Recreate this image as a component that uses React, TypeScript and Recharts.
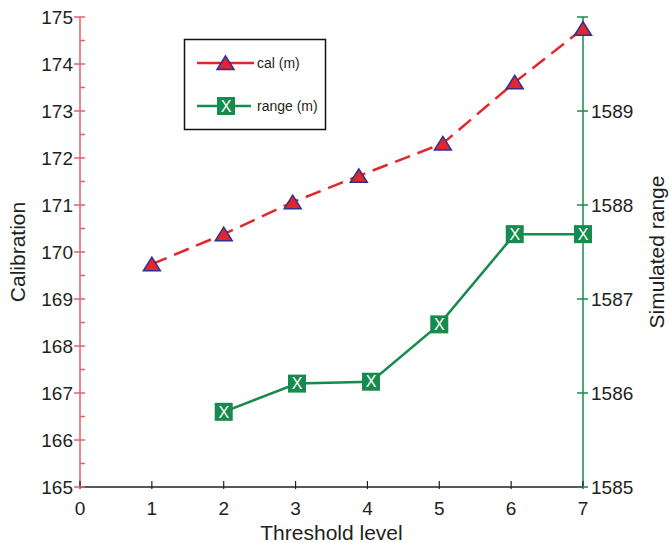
import React from 'react';
import { LineChart, Line, XAxis, YAxis } from 'recharts';

// Threshold level vs calibration / simulated range
const calLevels = [1, 2, 2.96, 3.88, 5.05, 6.05, 7];
const calValues = [169.74, 170.38, 171.06, 171.62, 172.31, 173.61, 174.75];
const rangeLevels = [2, 3.02, 4.05, 5, 6.05, 7];
const rangeValues = [1585.8, 1586.1, 1586.12, 1586.73, 1587.69, 1587.69];

const xTicks = [0, 1, 2, 3, 4, 5, 6, 7];
const leftTicks = [165, 165.5, 166, 166.5, 167, 167.5, 168, 168.5, 169, 169.5, 170, 170.5, 171, 171.5, 172, 172.5, 173, 173.5, 174, 174.5, 175];
const rightTicks = [1585, 1586, 1587, 1588, 1589, 1590];

const calData = calLevels.map((x, i) => ({ x, cal: calValues[i] }));
const rangeData = rangeLevels.map((x, i) => ({ x, range: rangeValues[i] }));

const FONT = '"Liberation Sans", Arial, sans-serif';
const TEXT = '#231f20';
const RED = '#e2262b';
const RED_AXIS = '#e2606a';
const GREEN = '#178a4e';
const NAVY = '#2e3192';

const Triangle = ({ cx, cy }: { cx: number; cy: number }) => (
  <polygon
    points={`${cx - 8.5},${cy + 6.5} ${cx + 8.5},${cy + 6.5} ${cx},${cy - 7}`}
    fill={RED}
    stroke={NAVY}
    strokeWidth={1.5}
    strokeLinejoin="miter"
  />
);

const XBox = ({ cx, cy }: { cx: number; cy: number }) => (
  <g>
    <rect x={cx - 9} y={cy - 9} width={18} height={18} fill={GREEN} />
    <text x={cx} y={cy} dy="0.36em" textAnchor="middle" fill="#fff" fontSize={16} fontFamily={FONT}>
      X
    </text>
  </g>
);

const LeftTick = (props: any) => {
  const { x, y, payload } = props;
  const major = Number.isInteger(payload.value);
  return (
    <g>
      <line x1={major ? x - 6 : x} x2={x + 5} y1={y} y2={y} stroke={RED_AXIS} strokeWidth={1.5} />
      {major && (
        <text x={x - 7} y={y} dy="0.36em" textAnchor="end" fill={TEXT} fontSize={19} fontFamily={FONT}>
          {payload.value}
        </text>
      )}
    </g>
  );
};

const RightTick = (props: any) => {
  const { x, y, payload } = props;
  return (
    <g>
      <line x1={x - 6} x2={x + 5} y1={y} y2={y} stroke={GREEN} strokeWidth={1.5} />
      {payload.value < 1590 && (
        <text x={x + 8} y={y} dy="0.36em" textAnchor="start" fill={TEXT} fontSize={19} fontFamily={FONT}>
          {payload.value}
        </text>
      )}
    </g>
  );
};

const BottomTick = (props: any) => {
  const { x, y, payload } = props;
  return (
    <g>
      <line x1={x} x2={x} y1={y - 6} y2={y + 2} stroke={TEXT} strokeWidth={1.2} />
      <text x={x} y={y + 21} dy="0.36em" textAnchor="middle" fill={TEXT} fontSize={19} fontFamily={FONT}>
        {payload.value}
      </text>
    </g>
  );
};

const LegendBox = () => (
  <svg width={669} height={543} style={{ position: 'absolute', left: 0, top: 0, pointerEvents: 'none' }}>
    <rect x={184.5} y={39.5} width={141} height={90} fill="#fff" stroke="#111" strokeWidth={1.5} />
    <line x1={197} x2={254} y1={63} y2={63} stroke={RED} strokeWidth={2.5} />
    <Triangle cx={225.5} cy={63} />
    <text x={257} y={63} dy="0.36em" fill={TEXT} fontSize={14} fontFamily={FONT}>
      cal (m)
    </text>
    <line x1={197} x2={251} y1={106} y2={106} stroke={GREEN} strokeWidth={2.5} />
    <XBox cx={226} cy={106} />
    <text x={257} y={106} dy="0.36em" fill={TEXT} fontSize={14} fontFamily={FONT}>
      range (m)
    </text>
  </svg>
);

export default function App() {
  return (
    <div style={{ position: 'absolute', left: 0, top: 0, width: 669, height: 543, background: '#fff' }}>
      <LineChart width={669} height={543} margin={{ top: 17, right: 0, bottom: 0, left: 0 }}>
        <XAxis
          dataKey="x"
          type="number"
          domain={[0, 7]}
          ticks={xTicks}
          interval={0}
          height={56}
          tickSize={0}
          tickMargin={0}
          tickLine={false}
          axisLine={{ stroke: TEXT, strokeWidth: 1.5 }}
          tick={BottomTick}
          label={{ value: 'Threshold level', position: 'insideBottom', offset: 3, fill: TEXT, fontSize: 21, fontFamily: FONT }}
        />
        <YAxis
          yAxisId="left"
          orientation="left"
          type="number"
          domain={[165, 175]}
          ticks={leftTicks}
          interval={0}
          width={80}
          tickSize={0}
          tickMargin={0}
          tickLine={false}
          axisLine={{ stroke: RED_AXIS, strokeWidth: 1.5 }}
          tick={LeftTick}
          label={{ value: 'Calibration', angle: -90, position: 'insideLeft', offset: 18, fill: TEXT, fontSize: 21, fontFamily: FONT, style: { textAnchor: 'middle' } }}
        />
        <YAxis
          yAxisId="right"
          orientation="right"
          type="number"
          domain={[1585, 1590]}
          ticks={rightTicks}
          interval={0}
          width={86}
          tickSize={0}
          tickMargin={0}
          tickLine={false}
          axisLine={{ stroke: GREEN, strokeWidth: 1.5 }}
          tick={RightTick}
          label={{ value: 'Simulated range', angle: -90, position: 'insideRight', offset: 12, fill: TEXT, fontSize: 21, fontFamily: FONT, style: { textAnchor: 'middle' } }}
        />
        <Line
          yAxisId="right"
          data={rangeData}
          dataKey="range"
          stroke={GREEN}
          strokeWidth={2.5}
          isAnimationActive={false}
          dot={(p: any) => <XBox key={`r-${p.index}`} cx={p.cx} cy={p.cy} />}
          activeDot={false}
        />
        <Line
          yAxisId="left"
          data={calData}
          dataKey="cal"
          stroke={RED}
          strokeWidth={2.5}
          strokeDasharray="16 8"
          isAnimationActive={false}
          dot={(p: any) => <Triangle key={`c-${p.index}`} cx={p.cx} cy={p.cy} />}
          activeDot={false}
        />
      </LineChart>
      <LegendBox />
    </div>
  );
}
